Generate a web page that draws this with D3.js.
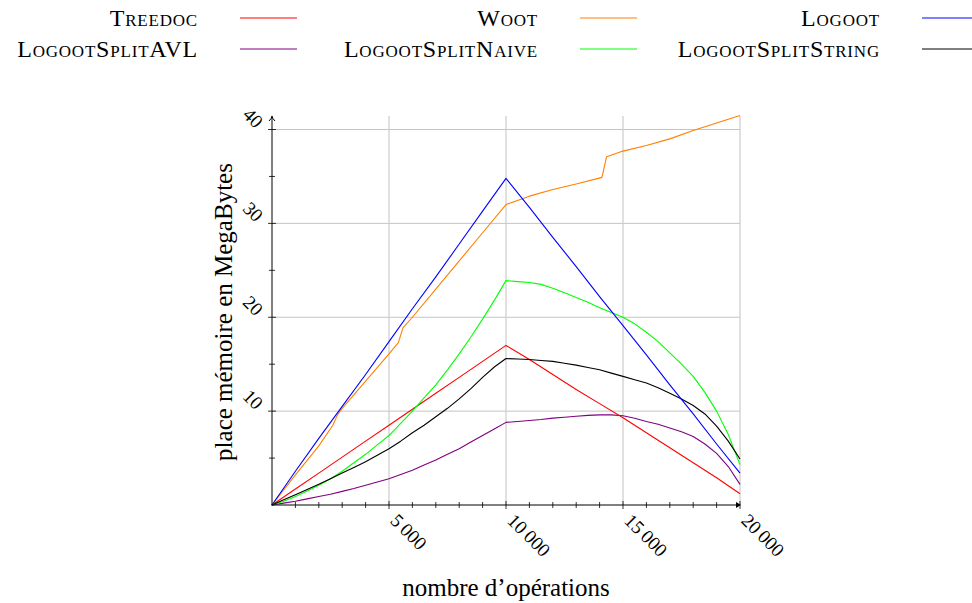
<!DOCTYPE html>
<html>
<head>
<meta charset="utf-8">
<script src="https://cdn.jsdelivr.net/npm/d3@7"></script>
<style>
  body { margin: 0; background: #fff; }
  text { font-family: "Liberation Serif", "Times New Roman", serif; fill: #000; }
</style>
</head>
<body>
<div id="chart"></div>
<script>
// operations (x) for the almost straight series
var ops = [0, 1000, 2000, 3000, 4000, 5000, 6000, 7000, 8000, 9000, 10000,
  11000, 12000, 13000, 14000, 15000, 16000, 17000, 18000, 19000, 20000];

// finer operations for the curved LogootSplit series
var opsFine = [0, 500, 1000, 1500, 2000, 2500, 3000, 3500, 4000, 4500, 5000,
  5500, 6000, 6500, 7000, 7500, 8000, 8500, 9000, 9500, 10000,
  10500, 11000, 11500, 12000, 12500, 13000, 13500, 14000, 14500, 15000,
  15500, 16000, 16500, 17000, 17500, 18000, 18500, 19000, 19500, 20000];

// memory in MegaBytes
var treedoc = [0, 1.7, 3.4, 5.1, 6.8, 8.5, 10.2, 11.9, 13.6, 15.3, 17.0,
  15.5, 13.9, 12.3, 10.8, 9.3, 7.7, 6.1, 4.5, 2.9, 1.2];
var logoot = [0, 3.6, 7.1, 10.5, 13.9, 17.4, 20.9, 24.3, 27.8, 31.3, 34.8,
  31.7, 28.5, 25.4, 22.2, 19.1, 16.0, 12.8, 9.7, 6.5, 3.4];

var splitAVL = [0, 0.2, 0.4, 0.65, 0.9, 1.15, 1.45, 1.75, 2.1, 2.45, 2.8,
  3.25, 3.7, 4.25, 4.8, 5.4, 6.0, 6.7, 7.4, 8.1, 8.8,
  8.9, 9.0, 9.1, 9.25, 9.35, 9.45, 9.55, 9.6, 9.6, 9.5,
  9.25, 8.9, 8.6, 8.2, 7.8, 7.3, 6.5, 5.5, 4.1, 2.2];
var splitNaive = [0, 0.4, 0.9, 1.5, 2.1, 2.8, 3.6, 4.5, 5.4, 6.4, 7.4,
  8.7, 10.0, 11.4, 12.8, 14.4, 16.1, 17.9, 19.8, 21.8, 23.9,
  23.8, 23.7, 23.5, 23.1, 22.6, 22.1, 21.6, 21.0, 20.5, 20.0,
  19.3, 18.4, 17.4, 16.2, 15.0, 13.7, 12.0, 10.0, 7.5, 4.3];
var splitString = [0, 0.55, 1.1, 1.65, 2.2, 2.8, 3.4, 4.0, 4.6, 5.3, 6.0,
  6.8, 7.7, 8.5, 9.4, 10.3, 11.3, 12.4, 13.6, 14.7, 15.6,
  15.55, 15.5, 15.4, 15.3, 15.1, 14.9, 14.65, 14.4, 14.05, 13.7,
  13.35, 13.0, 12.5, 11.9, 11.3, 10.6, 9.7, 8.4, 6.8, 4.9];

// Woot has its own points because of the jumps
var wootOps = [0, 1000, 2000, 2600, 2800, 3000, 4000, 5000, 5400, 5600, 6000, 7000, 8000, 9000, 10000,
  11000, 12000, 13000, 14100, 14300, 15000, 16000, 17000, 18000, 19000, 20000];
var woot = [0, 3.2, 6.3, 8.5, 9.6, 10.3, 13.2, 16.1, 17.3, 18.9, 20.0, 23.0, 26.0, 29.0, 32.0,
  32.9, 33.6, 34.2, 34.9, 37.1, 37.7, 38.3, 39.0, 39.9, 40.7, 41.5];

var seriesNames = ["Treedoc", "Woot", "Logoot", "LogootSplitAVL", "LogootSplitNaive", "LogootSplitString"];
var seriesColors = ["#ff0000", "#ff8000", "#0000ff", "#800080", "#00ff00", "#000000"];

var xMajor = [5000, 10000, 15000, 20000];
var xTickLabels = ["5\u2009000", "10\u2009000", "15\u2009000", "20\u2009000"];
var xMinor = [1000, 2000, 3000, 4000, 6000, 7000, 8000, 9000, 11000, 12000, 13000, 14000, 16000, 17000, 18000, 19000];
var yMajor = [10, 20, 30, 40];
var yTickLabels = ["10", "20", "30", "40"];
var yMinor = [5, 15, 25, 35];

var width = 972, height = 603;

var svg = d3.select("#chart")
  .append("svg")
  .attr("width", width)
  .attr("height", height);

var x = d3.scaleLinear().domain([0, 20000]).range([272, 740]);
var y = d3.scaleLinear().domain([0, 40]).range([505, 129.5]);

var topY = 116;

// grid
svg.append("g")
  .selectAll("line")
  .data(yMajor)
  .enter()
  .append("line")
  .attr("x1", x(0)).attr("x2", x(20000))
  .attr("y1", function(d) { return y(d); })
  .attr("y2", function(d) { return y(d); })
  .attr("stroke", "#c4c4c4").attr("stroke-width", 1);

svg.append("g")
  .selectAll("line")
  .data(xMajor)
  .enter()
  .append("line")
  .attr("x1", function(d) { return x(d); })
  .attr("x2", function(d) { return x(d); })
  .attr("y1", y(0)).attr("y2", topY)
  .attr("stroke", "#cccccc").attr("stroke-width", 1.2);

// series
var line = d3.line()
  .x(function(d) { return x(d[0]); })
  .y(function(d) { return y(d[1]); });

function pairs(xs, ys) {
  return xs.map(function(v, i) { return [v, ys[i]]; });
}

var seriesData = [
  pairs(ops, treedoc),
  pairs(wootOps, woot),
  pairs(ops, logoot),
  pairs(opsFine, splitAVL),
  pairs(opsFine, splitNaive),
  pairs(opsFine, splitString)
];

// draw in an order close to the picture
var drawOrder = [3, 0, 4, 5, 1, 2];
svg.append("g")
  .selectAll("path")
  .data(drawOrder)
  .enter()
  .append("path")
  .attr("d", function(i) { return line(seriesData[i]); })
  .attr("fill", "none")
  .attr("stroke", function(i) { return seriesColors[i]; })
  .attr("stroke-width", 1.1)
  .attr("stroke-linejoin", "round");

// axes
var axis = svg.append("g").attr("stroke", "#000").attr("stroke-width", 1);
axis.append("line")
  .attr("x1", x(0)).attr("x2", x(0))
  .attr("y1", y(0) + 0.5).attr("y2", topY + 2);
axis.append("line")
  .attr("x1", x(0) - 0.5).attr("x2", x(20000) - 1)
  .attr("y1", y(0)).attr("y2", y(0));

// arrow heads
svg.append("path")
  .attr("d", "M" + (x(0) - 3) + "," + (topY + 5) + " Q" + x(0) + "," + (topY + 2) + " " + x(0) + "," + topY +
    " Q" + x(0) + "," + (topY + 2) + " " + (x(0) + 3) + "," + (topY + 5))
  .attr("fill", "none").attr("stroke", "#000").attr("stroke-width", 1);
svg.append("path")
  .attr("d", "M" + (x(20000) - 4) + "," + (y(0) - 3) + " L" + (x(20000) + 1) + "," + y(0) + " L" + (x(20000) - 4) + "," + (y(0) + 3) + " Z")
  .attr("fill", "#000");

// ticks
svg.append("g").selectAll("line").data(xMinor).enter().append("line")
  .attr("x1", function(d) { return x(d); }).attr("x2", function(d) { return x(d); })
  .attr("y1", y(0) - 3).attr("y2", y(0) + 3)
  .attr("stroke", "#000").attr("stroke-width", 0.8);
svg.append("g").selectAll("line").data(xMajor).enter().append("line")
  .attr("x1", function(d) { return x(d); }).attr("x2", function(d) { return x(d); })
  .attr("y1", y(0) - 4).attr("y2", y(0) + 4)
  .attr("stroke", "#000").attr("stroke-width", 0.8);
svg.append("g").selectAll("line").data(yMinor).enter().append("line")
  .attr("x1", x(0) - 3).attr("x2", x(0) + 3)
  .attr("y1", function(d) { return y(d); }).attr("y2", function(d) { return y(d); })
  .attr("stroke", "#000").attr("stroke-width", 0.8);
svg.append("g").selectAll("line").data(yMajor).enter().append("line")
  .attr("x1", x(0) - 4).attr("x2", x(0) + 4)
  .attr("y1", function(d) { return y(d); }).attr("y2", function(d) { return y(d); })
  .attr("stroke", "#000").attr("stroke-width", 0.8);

// tick labels
svg.append("g").selectAll("text").data(xMajor).enter().append("text")
  .attr("transform", function(d) { return "translate(" + (x(d) + 5) + "," + (y(0) + 12) + ") rotate(45)"; })
  .attr("dy", "0.35em")
  .attr("font-size", "19px")
  .style("text-anchor", "start")
  .text(function(d, i) { return xTickLabels[i]; });

svg.append("g").selectAll("text").data(yMajor).enter().append("text")
  .attr("transform", function(d) { return "translate(" + (x(0) - 12) + "," + (y(d) - 5) + ") rotate(45)"; })
  .attr("dy", "0.35em")
  .attr("font-size", "19px")
  .style("text-anchor", "end")
  .text(function(d, i) { return yTickLabels[i]; });

// axis labels
svg.append("text")
  .attr("x", (x(0) + x(20000)) / 2)
  .attr("y", 596)
  .attr("font-size", "25px")
  .style("text-anchor", "middle")
  .text("nombre d\u2019opérations");

svg.append("text")
  .attr("transform", "translate(232," + 312 + ") rotate(-90)")
  .attr("font-size", "25px")
  .style("text-anchor", "middle")
  .text("place mémoire en MegaBytes");

// legend
var legendTextX = [198, 538, 880];
var legendRowY = [18, 49];
var legend = svg.append("g")
  .selectAll("g")
  .data(seriesNames)
  .enter()
  .append("g")
  .attr("transform", function(d, i) {
    return "translate(" + legendTextX[i % 3] + "," + legendRowY[Math.floor(i / 3)] + ")";
  });

legend.append("text")
  .attr("dy", "0.35em")
  .attr("font-size", "24px")
  .style("font-variant", "small-caps")
  .style("letter-spacing", "0.8px")
  .style("text-anchor", "end")
  .text(function(d) { return d; });

legend.append("line")
  .attr("x1", 42).attr("x2", 99)
  .attr("y1", 0).attr("y2", 0)
  .attr("stroke", function(d, i) { return seriesColors[i]; })
  .attr("stroke-width", 1.1);
</script>
</body>
</html>
